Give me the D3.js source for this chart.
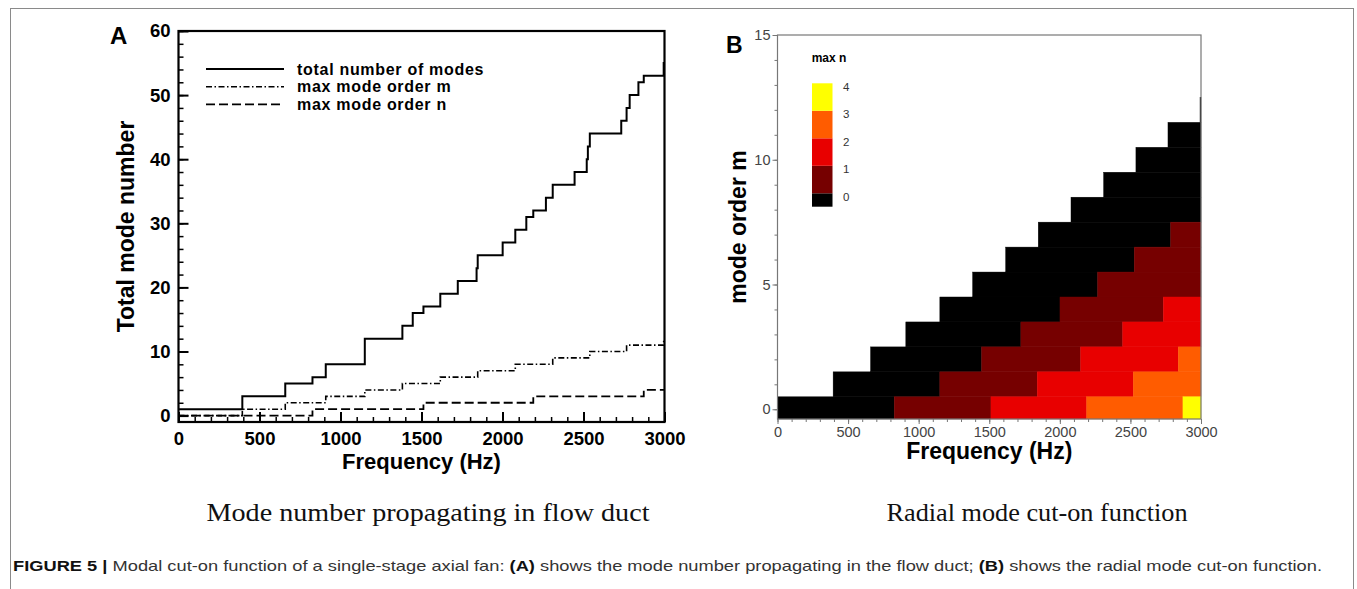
<!DOCTYPE html>
<html lang="en">
<head>
<meta charset="UTF-8">
<title>Modal cut-on function</title>
<style>
  body { margin: 0; background: #fff; }
  svg { display: block; }
</style>
</head>
<body>
<div id="chart-container"></div>
<script src="https://d3js.org/d3.v7.min.js"></script>
<script>
// ---- data ----
// panel A: step series, value holds from freq[i] to freq[i+1]
const freqTotal = [0, 394, 659, 827, 909, 1150, 1382, 1446, 1512, 1616, 1724, 1840, 1847, 2001, 2079, 2147, 2190, 2268, 2310, 2445, 2520, 2527, 2539, 2733, 2766, 2785, 2839, 2872, 2995, 3000];
const totalModes = [1, 3, 5, 6, 8, 12, 14, 16, 17, 19, 21, 23, 25, 27, 29, 31, 32, 34, 36, 38, 40, 42, 44, 46, 48, 50, 52, 53, 55, 55];
const freqM = [0, 394, 659, 909, 1150, 1382, 1616, 1847, 2079, 2310, 2539, 2766, 2995, 3000];
const maxM = [0, 1, 2, 3, 4, 5, 6, 7, 8, 9, 10, 11, 12, 12];
const freqN = [0, 827, 1512, 2190, 2872, 3000];
const maxN = [0, 1, 2, 3, 4, 4];

// panel B: cut-on frequency of radial order n for each circumferential order m (index = m)
const cutOnN0 = [0, 394, 659, 909, 1150, 1382, 1616, 1847, 2079, 2310, 2539, 2766, 2993];
const cutOnN1 = [827, 1150, 1446, 1724, 2001, 2268, 2527, 2785];
const cutOnN2 = [1512, 1840, 2147, 2445, 2733];
const cutOnN3 = [2190, 2520, 2839];
const cutOnN4 = [2872];
const levels = [0, 1, 2, 3, 4];
const levelColors = ["#000000", "#760000", "#e80000", "#ff5c00", "#ffff00"];

const legendA = ["total number of modes", "max mode order m", "max mode order n"];

const W = 1357, H = 589;
const svg = d3.select("#chart-container").append("svg")
  .attr("width", W).attr("height", H)
  .style("font-family", "'Liberation Sans', Arial, sans-serif");

// outer frame
svg.append("rect")
  .attr("x", 10.5).attr("y", 8.5).attr("width", 1343).attr("height", 640)
  .attr("fill", "none").attr("stroke", "#8a8a8a").attr("stroke-width", 1);

const fmt = d3.format("d");

// ================= Panel A =================
const A = {LEFT: 178.5, RIGHT: 664.5, TOP: 31, BOTTOM: 422};
const xA = d3.scaleLinear().domain([0, 3000]).range([A.LEFT, A.RIGHT]);
const yA = d3.scaleLinear().domain([-1, 60]).range([A.BOTTOM, A.TOP]);
const gA = svg.append("g");

gA.append("g")
  .attr("transform", `translate(0,${A.BOTTOM})`)
  .call(d3.axisBottom(xA).tickValues(d3.range(0, 3001, 100)).tickSize(-5).tickFormat(""))
  .call(g => g.select(".domain").remove())
  .call(g => g.selectAll("line").attr("stroke", "#000").attr("stroke-width", 1.5));
gA.append("g")
  .attr("transform", `translate(0,${A.BOTTOM})`)
  .call(d3.axisBottom(xA).tickValues(d3.range(0, 3001, 500)).tickSize(-10).tickPadding(10).tickFormat(fmt))
  .call(g => g.select(".domain").remove())
  .call(g => g.selectAll("line").attr("stroke", "#000").attr("stroke-width", 2))
  .call(g => g.selectAll("text").attr("font-size", "18.5px").attr("font-weight", "bold").attr("fill", "#000"));

gA.append("g")
  .attr("transform", `translate(${A.LEFT},0)`)
  .call(d3.axisLeft(yA).tickValues(d3.range(0, 61, 2)).tickSize(-5).tickFormat(""))
  .call(g => g.select(".domain").remove())
  .call(g => g.selectAll("line").attr("stroke", "#000").attr("stroke-width", 1.5));
gA.append("g")
  .attr("transform", `translate(${A.LEFT},0)`)
  .call(d3.axisLeft(yA).tickValues(d3.range(0, 61, 10)).tickSize(-10).tickPadding(8).tickFormat(fmt))
  .call(g => g.select(".domain").remove())
  .call(g => g.selectAll("line").attr("stroke", "#000").attr("stroke-width", 2))
  .call(g => g.selectAll("text").attr("font-size", "18.5px").attr("font-weight", "bold").attr("fill", "#000"));

gA.append("rect")
  .attr("x", A.LEFT).attr("y", A.TOP)
  .attr("width", A.RIGHT - A.LEFT).attr("height", A.BOTTOM - A.TOP)
  .attr("fill", "none").attr("stroke", "#000").attr("stroke-width", 2.2);

const stepLine = d3.line()
  .x(d => xA(d[0])).y(d => yA(d[1]))
  .curve(d3.curveStepAfter);

const seriesA = [
  {pts: d3.zip(freqTotal, totalModes), dash: null, w: 2},
  {pts: d3.zip(freqM, maxM), dash: "6,2.5,1.5,2.5", w: 1.6},
  {pts: d3.zip(freqN, maxN), dash: "9,4", w: 1.8}
];
gA.selectAll("path.series").data(seriesA).enter().append("path")
  .attr("class", "series")
  .attr("d", d => stepLine(d.pts))
  .attr("fill", "none").attr("stroke", "#000")
  .attr("stroke-width", d => d.w)
  .attr("stroke-dasharray", d => d.dash);

// legend A
const legA = gA.selectAll("g.leg").data(legendA).enter().append("g")
  .attr("transform", (d, i) => `translate(0,${69 + i * 17.7})`);
legA.append("line")
  .attr("x1", 206).attr("x2", 284).attr("y1", 0).attr("y2", 0)
  .attr("stroke", "#000")
  .attr("stroke-width", (d, i) => seriesA[i].w)
  .attr("stroke-dasharray", (d, i) => seriesA[i].dash);
legA.append("text")
  .attr("x", 297).attr("y", 5.5)
  .attr("font-size", "16px").attr("font-weight", "bold")
  .attr("letter-spacing", "0.7px")
  .text(d => d);

gA.append("text").attr("x", 110).attr("y", 44)
  .attr("font-size", "24px").attr("font-weight", "bold").text("A");
gA.append("text")
  .attr("transform", `translate(134,${(A.TOP + A.BOTTOM) / 2}) rotate(-90)`)
  .attr("text-anchor", "middle")
  .attr("font-size", "23px").attr("font-weight", "bold")
  .text("Total mode number");
gA.append("text")
  .attr("x", (A.LEFT + A.RIGHT) / 2).attr("y", 469)
  .attr("text-anchor", "middle")
  .attr("font-size", "22px").attr("font-weight", "bold")
  .text("Frequency (Hz)");

// ================= Panel B =================
const B = {LEFT: 777.5, RIGHT: 1201, TOP: 35, BOTTOM: 419};
const xB = d3.scaleLinear().domain([0, 3000]).range([B.LEFT, B.RIGHT]);
const yB = d3.scaleLinear().domain([-0.39, 15]).range([B.BOTTOM, B.TOP]);
const gB = svg.append("g");

const cutOn = [cutOnN0, cutOnN1, cutOnN2, cutOnN3, cutOnN4];
const cells = [];
cutOn.forEach((arr, n) => {
  arr.forEach((f0, m) => {
    const next = cutOn[n + 1] && cutOn[n + 1][m] !== undefined ? cutOn[n + 1][m] : 3000;
    cells.push({n, m, f0, f1: next});
  });
});
gB.selectAll("rect.cell").data(cells).enter().append("rect")
  .attr("class", "cell")
  .attr("x", d => xB(d.f0))
  .attr("width", d => Math.max(xB(d.f1) - xB(d.f0), 0.8))
  .attr("y", d => yB(d.m + 0.5))
  .attr("height", d => yB(Math.max(d.m - 0.5, -0.39)) - yB(d.m + 0.5))
  .attr("fill", d => levelColors[d.n])
  .attr("stroke", d => levelColors[d.n]).attr("stroke-width", 0.4);

const axisGray = "#777";
gB.append("g")
  .attr("transform", `translate(0,${B.BOTTOM})`)
  .call(d3.axisBottom(xB).tickValues(d3.range(0, 3001, 100)).tickSize(3).tickFormat(""))
  .call(g => g.select(".domain").remove())
  .call(g => g.selectAll("line").attr("stroke", axisGray));
gB.append("g")
  .attr("transform", `translate(0,${B.BOTTOM})`)
  .call(d3.axisBottom(xB).tickValues(d3.range(0, 3001, 500)).tickSize(5).tickPadding(3).tickFormat(fmt))
  .call(g => g.select(".domain").remove())
  .call(g => g.selectAll("line").attr("stroke", axisGray))
  .call(g => g.selectAll("text").attr("font-size", "14.5px").attr("fill", "#444"));
gB.append("g")
  .attr("transform", `translate(${B.LEFT},0)`)
  .call(d3.axisLeft(yB).tickValues(d3.range(0, 16, 1)).tickSize(3).tickFormat(""))
  .call(g => g.select(".domain").remove())
  .call(g => g.selectAll("line").attr("stroke", axisGray));
gB.append("g")
  .attr("transform", `translate(${B.LEFT},0)`)
  .call(d3.axisLeft(yB).tickValues([0, 5, 10, 15]).tickSize(5).tickPadding(2).tickFormat(fmt))
  .call(g => g.select(".domain").remove())
  .call(g => g.selectAll("line").attr("stroke", axisGray))
  .call(g => g.selectAll("text").attr("font-size", "14.5px").attr("fill", "#444"));
gB.append("rect")
  .attr("x", B.LEFT).attr("y", B.TOP)
  .attr("width", B.RIGHT - B.LEFT).attr("height", B.BOTTOM - B.TOP)
  .attr("fill", "none").attr("stroke", axisGray).attr("stroke-width", 1.2);

// legend B
const legY = d3.scaleLinear().domain([0, 4]).range([193.3, 83.3]);
gB.append("text").attr("x", 829).attr("y", 62)
  .attr("text-anchor", "middle")
  .attr("font-size", "12px").attr("font-weight", "bold").text("max n");
gB.selectAll("rect.sw").data(levels).enter().append("rect")
  .attr("class", "sw")
  .attr("x", 812).attr("width", 20.5)
  .attr("y", d => legY(d))
  .attr("height", d => d === 0 ? 13.4 : legY(d - 1) - legY(d))
  .attr("fill", d => levelColors[d]);
gB.selectAll("text.lv").data(levels).enter().append("text")
  .attr("class", "lv")
  .attr("x", 843).attr("y", d => legY(d) + 7.5)
  .attr("font-size", "11.5px").attr("fill", "#333")
  .text(d => d);

gB.append("text").attr("x", 726).attr("y", 53)
  .attr("font-size", "23px").attr("font-weight", "bold").text("B");
gB.append("text")
  .attr("transform", `translate(746,${(B.TOP + B.BOTTOM) / 2}) rotate(-90)`)
  .attr("text-anchor", "middle")
  .attr("font-size", "23px").attr("font-weight", "bold")
  .text("mode order m");
gB.append("text")
  .attr("x", (B.LEFT + B.RIGHT) / 2).attr("y", 459)
  .attr("text-anchor", "middle")
  .attr("font-size", "23px").attr("font-weight", "bold")
  .text("Frequency (Hz)");

// ================= captions =================
svg.append("text").attr("x", 428).attr("y", 521)
  .attr("text-anchor", "middle")
  .attr("font-family", "'Liberation Serif', 'Times New Roman', serif")
  .attr("font-size", "26px").attr("fill", "#111")
  .attr("textLength", 443).attr("lengthAdjust", "spacingAndGlyphs")
  .text("Mode number propagating in flow duct");
svg.append("text").attr("x", 1037).attr("y", 521)
  .attr("text-anchor", "middle")
  .attr("font-family", "'Liberation Serif', 'Times New Roman', serif")
  .attr("font-size", "26px").attr("fill", "#111")
  .attr("textLength", 301).attr("lengthAdjust", "spacingAndGlyphs")
  .text("Radial mode cut-on function");

const cap = svg.append("text").attr("x", 13).attr("y", 571)
  .attr("font-size", "15px").attr("fill", "#333")
  .attr("textLength", 1309).attr("lengthAdjust", "spacingAndGlyphs");
cap.append("tspan").attr("font-weight", "bold").attr("fill", "#111").text("FIGURE 5 | ");
cap.append("tspan").text("Modal cut-on function of a single-stage axial fan: ");
cap.append("tspan").attr("font-weight", "bold").attr("fill", "#111").text("(A)");
cap.append("tspan").text(" shows the mode number propagating in the flow duct; ");
cap.append("tspan").attr("font-weight", "bold").attr("fill", "#111").text("(B)");
cap.append("tspan").text(" shows the radial mode cut-on function.");
</script>
</body>
</html>
